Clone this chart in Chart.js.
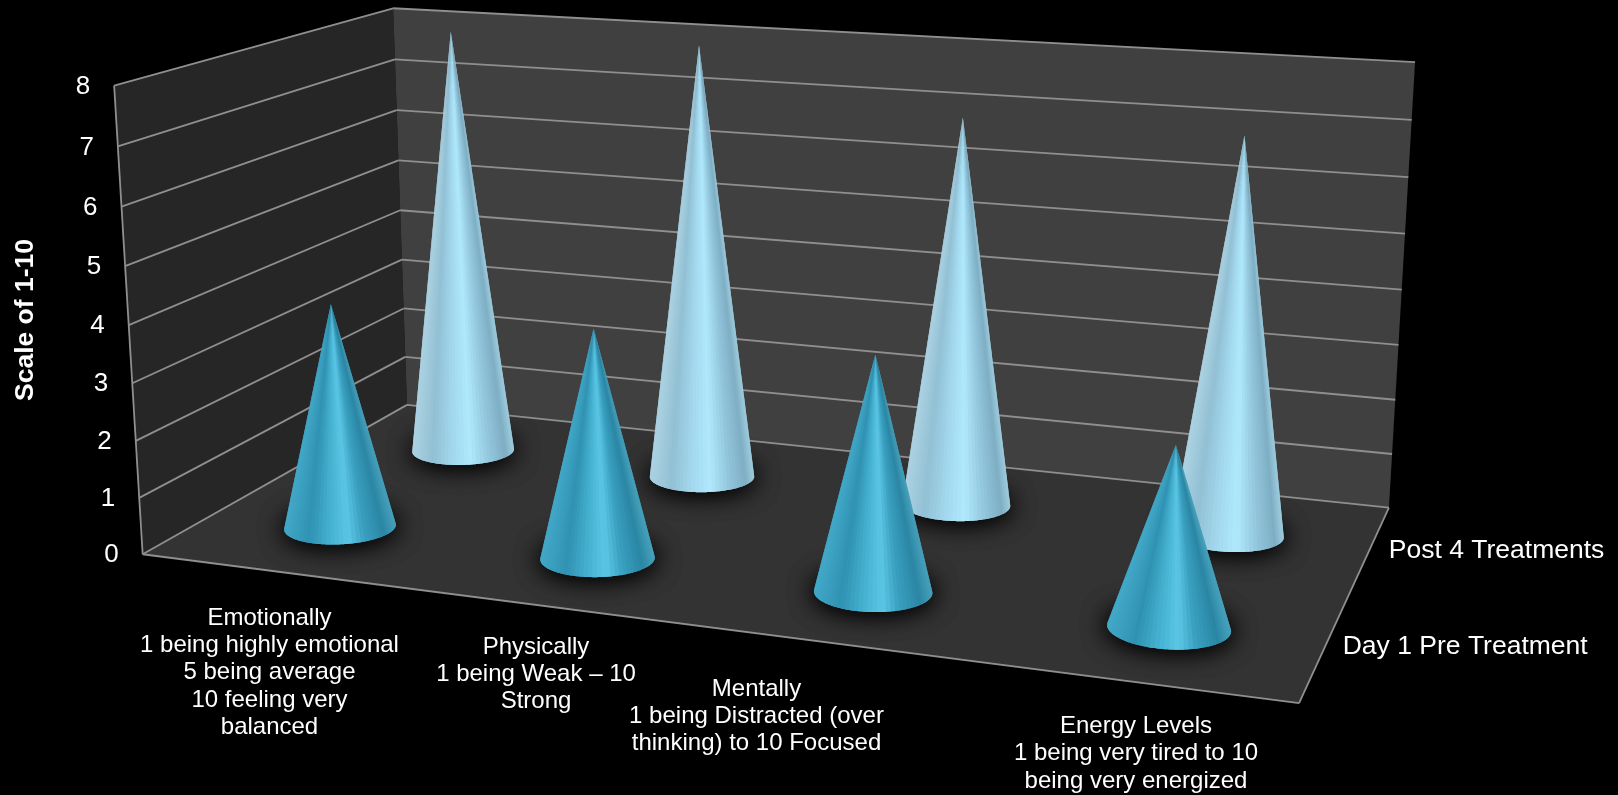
<!DOCTYPE html>
<html>
<head>
<meta charset="utf-8">
<title>Scale of 1-10</title>
<script src="https://cdn.jsdelivr.net/npm/chart.js@4"></script>
<style>
  html, body { margin: 0; padding: 0; background: #000; }
  canvas { display: block; }
</style>
</head>
<body>
<canvas id="coneChart" width="1618" height="795"></canvas>
<script>
// Survey scores
const categories = [
  ['Emotionally', '1 being highly emotional', '5 being average', '10 feeling very', 'balanced'],
  ['Physically', '1 being Weak \u2013 10', 'Strong'],
  ['Mentally', '1 being Distracted (over', 'thinking) to 10 Focused'],
  ['Energy Levels', '1 being very tired to 10', 'being very energized']
];
const seriesNames = ['Day 1 Pre Treatment', 'Post 4 Treatments'];
const preTreatment = [4, 4, 4, 3];
const postTreatment = [8, 8, 7, 7];
const axisTitle = 'Scale of 1-10';

// Where the 3D box corners land on the canvas: [u, v, h, x, y]
const boxCorners = [
  [0, 0, 0, 142.6, 554], [1, 0, 0, 1299.3, 703], [1, 1, 0, 1388.8, 508], [0, 1, 0, 407, 405],
  [0, 0, 1, 114, 86], [0, 1, 1, 393.3, 8], [1, 1, 1, 1415, 62]
];
// Label anchors: centre x and first line y of each category label
const categoryLabelPos = [[269.5, 618], [536, 647], [756.5, 689], [1136, 726.5]];
const seriesLabelPos = [[1342.7, 647], [1388.8, 551]];

const CONE_RU = 0.0495;
const CONE_RV = 0.098;

const FONT = '"Liberation Sans", Arial, sans-serif';

// Colours across the cone from left edge (t=0) to right edge (t=1)
const preStops = [[0, [66, 168, 200]], [0.22, [48, 146, 178]], [0.42, [70, 178, 210]], [0.58, [92, 198, 230]], [0.72, [58, 160, 192]], [0.9, [42, 134, 164]], [1, [70, 160, 186]]];
const postStops = [[0, [172, 210, 226]], [0.2, [146, 192, 212]], [0.42, [164, 218, 240]], [0.58, [176, 232, 252]], [0.75, [148, 200, 222]], [0.92, [126, 174, 196]], [1, [158, 204, 222]]];

// least squares fit of the projective camera for the box
function fitCamera(points) {
  const rows = [], rhs = [];
  points.forEach(([u, v, h, px, py]) => {
    const x = px / 1000, y = py / 1000;
    rows.push([u, v, h, 1, 0, 0, 0, 0, -x * u, -x * v, -x * h]); rhs.push(x);
    rows.push([0, 0, 0, 0, u, v, h, 1, -y * u, -y * v, -y * h]); rhs.push(y);
  });
  const n = 11;
  const m = [];
  for (let i = 0; i < n; i++) {
    m.push(new Array(n + 1).fill(0));
    for (let j = 0; j < n; j++) rows.forEach(r => { m[i][j] += r[i] * r[j]; });
    rows.forEach((r, k) => { m[i][n] += r[i] * rhs[k]; });
  }
  for (let c = 0; c < n; c++) {
    let best = c;
    for (let r = c + 1; r < n; r++) if (Math.abs(m[r][c]) > Math.abs(m[best][c])) best = r;
    [m[c], m[best]] = [m[best], m[c]];
    for (let r = 0; r < n; r++) {
      if (r === c) continue;
      const f = m[r][c] / m[c][c];
      for (let k = c; k <= n; k++) m[r][k] -= f * m[c][k];
    }
  }
  return m.map((row, i) => row[n] / row[i]);
}
const cam = fitCamera(boxCorners);

function project(u, v, h) {
  const w = cam[8] * u + cam[9] * v + cam[10] * h + 1;
  return {
    x: 1000 * (cam[0] * u + cam[1] * v + cam[2] * h + cam[3]) / w,
    y: 1000 * (cam[4] * u + cam[5] * v + cam[6] * h + cam[7]) / w
  };
}

function poly(ctx, pts) {
  ctx.beginPath();
  pts.forEach((p, i) => { if (i) ctx.lineTo(p.x, p.y); else ctx.moveTo(p.x, p.y); });
  ctx.closePath();
}

function seg(ctx, a, b) {
  ctx.beginPath();
  ctx.moveTo(a.x, a.y);
  ctx.lineTo(b.x, b.y);
  ctx.stroke();
}

function colorAt(stops, t) {
  for (let i = 1; i < stops.length; i++) {
    if (t <= stops[i][0]) {
      const a = stops[i - 1], b = stops[i];
      const f = (t - a[0]) / (b[0] - a[0]);
      const c = a[1].map((val, k) => Math.round(val + (b[1][k] - val) * f));
      return `rgb(${c[0]},${c[1]},${c[2]})`;
    }
  }
  return `rgb(${stops[stops.length - 1][1].join(',')})`;
}

function drawBox(ctx, yScale, area) {
  poly(ctx, [project(0, 0, 0), project(1, 0, 0), project(1, 1, 0), project(0, 1, 0)]);
  ctx.fillStyle = '#333333';
  ctx.fill();
  poly(ctx, [project(0, 0, 0), project(0, 1, 0), project(0, 1, 1), project(0, 0, 1)]);
  ctx.fillStyle = '#262626';
  ctx.fill();
  poly(ctx, [project(0, 1, 0), project(1, 1, 0), project(1, 1, 1), project(0, 1, 1)]);
  ctx.fillStyle = '#404040';
  ctx.fill();

  ctx.strokeStyle = '#8f8f8f';
  ctx.lineWidth = 1.8;
  yScale.ticks.forEach(t => {
    const h = (area.bottom - yScale.getPixelForValue(t.value)) / area.height;
    seg(ctx, project(0, 0, h), project(0, 1, h));
    seg(ctx, project(0, 1, h), project(1, 1, h));
    const p = project(0, 0, h);
    ctx.fillStyle = '#ffffff';
    ctx.font = '26px ' + FONT;
    ctx.textAlign = 'right';
    ctx.textBaseline = 'middle';
    ctx.fillText(t.label, p.x - 24, p.y + 1);
  });
  seg(ctx, project(0, 0, 0), project(0, 0, 1));
  seg(ctx, project(0, 0, 0), project(1, 0, 0));
  seg(ctx, project(1, 0, 0), project(1, 1, 0));
}

function drawCone(ctx, u, v, h, stops) {
  const ring = [];
  for (let i = 0; i < 240; i++) {
    const a = i / 240 * Math.PI * 2;
    ring.push(project(u + CONE_RU * Math.cos(a), v + CONE_RV * Math.sin(a), 0));
  }
  const apex = project(u, v, h);

  // soft contact shadow around the foot
  ctx.save();
  ctx.shadowColor = 'rgba(0,0,0,0.95)';
  ctx.shadowBlur = 26;
  ctx.fillStyle = '#161616';
  poly(ctx, ring);
  ctx.fill();
  ctx.fill();
  ctx.restore();

  // silhouette: walk the ring between the two tangent points seen from the apex
  const angle = p => Math.atan2(p.x - apex.x, p.y - apex.y);
  let left = 0, right = 0;
  ring.forEach((p, i) => {
    if (angle(p) < angle(ring[left])) left = i;
    if (angle(p) > angle(ring[right])) right = i;
  });
  const xMin = ring[left].x, xMax = ring[right].x;

  // near side is the part of the ring lowest on screen
  const near = [];
  let i = right;
  const mid = (ring[left].y + ring[right].y) / 2;
  const step = ring[(right + 1) % 240].y > mid && ring[(right + 1) % 240].y > ring[right].y ? 1 : -1;
  while (i !== left) {
    near.push(ring[i]);
    i = (i + step + 240) % 240;
  }
  near.push(ring[left]);

  // fan from the apex, shaded by position around the cone; each slice
  // overlaps the next so no seams show through
  for (let k = 0; k < near.length - 1; k += 3) {
    const a = near[k];
    const c = near[Math.min(k + 3, near.length - 1)];
    const t = ((a.x + c.x) / 2 - xMin) / (xMax - xMin);
    ctx.fillStyle = colorAt(stops, Math.min(1, Math.max(0, t)));
    ctx.beginPath();
    ctx.moveTo(apex.x, apex.y);
    ctx.lineTo(a.x, a.y);
    for (let j = k + 1; j <= Math.min(k + 6, near.length - 1); j++) ctx.lineTo(near[j].x, near[j].y);
    ctx.closePath();
    ctx.fill();
  }
}

const conePlugin = {
  id: 'cone3d',
  beforeDatasetsDraw(chart) {
    const { ctx, chartArea: area, scales } = chart;
    ctx.save();
    drawBox(ctx, scales.y, area);

    // farthest series first so the front row sits over it
    for (let d = chart.data.datasets.length - 1; d >= 0; d--) {
      const v = (d + 0.5) / chart.data.datasets.length;
      const stops = d === 0 ? preStops : postStops;
      chart.getDatasetMeta(d).data.forEach(bar => {
        const u = (bar.x - area.left) / area.width;
        const h = (area.bottom - bar.y) / area.height;
        drawCone(ctx, u, v, h, stops);
      });
    }

    ctx.fillStyle = '#ffffff';
    ctx.textBaseline = 'middle';
    ctx.font = '24px ' + FONT;
    ctx.textAlign = 'center';
    chart.data.labels.forEach((lines, i) => {
      lines.forEach((line, k) => {
        ctx.fillText(line, categoryLabelPos[i][0], categoryLabelPos[i][1] + k * 27.3);
      });
    });
    ctx.textAlign = 'left';
    ctx.font = '26.5px ' + FONT;
    seriesNames.forEach((name, i) => {
      ctx.fillText(name, seriesLabelPos[i][0], seriesLabelPos[i][1]);
    });
    ctx.restore();
    return false;
  }
};

new Chart(document.getElementById('coneChart'), {
  type: 'bar',
  data: {
    labels: categories,
    datasets: [
      { label: seriesNames[0], data: preTreatment, grouped: false },
      { label: seriesNames[1], data: postTreatment, grouped: false }
    ]
  },
  plugins: [conePlugin],
  options: {
    responsive: false,
    animation: false,
    events: [],
    layout: { padding: { left: 0, top: 86, right: 319, bottom: 241 } },
    plugins: { legend: { display: false }, tooltip: { enabled: false } },
    scales: {
      x: { display: false },
      y: {
        min: 0,
        max: 8,
        ticks: { display: false, stepSize: 1 },
        grid: { display: false },
        border: { display: false },
        title: {
          display: true,
          text: axisTitle,
          color: '#ffffff',
          font: { family: FONT, size: 26.5, weight: 'bold' },
          padding: { top: 10, bottom: 0 }
        },
        afterFit(scale) { scale.width = 142.6; }
      }
    }
  }
});
</script>
</body>
</html>
